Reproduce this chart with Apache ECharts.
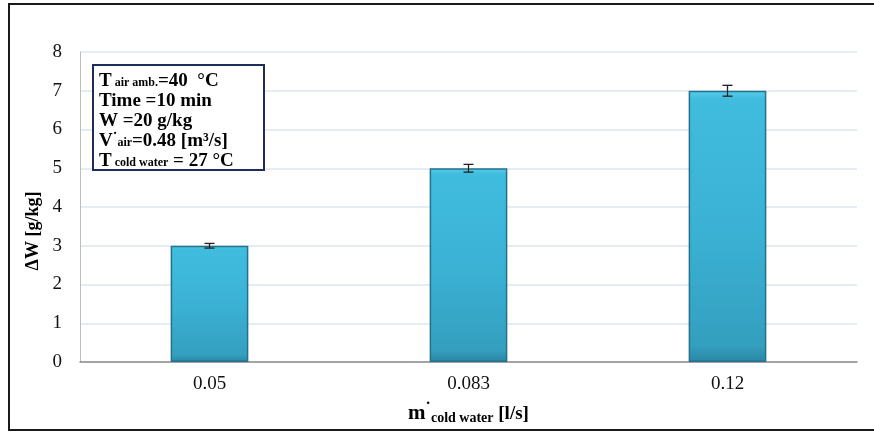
<!DOCTYPE html>
<html>
<head>
<meta charset="utf-8">
<script src="https://cdn.jsdelivr.net/npm/echarts@6/dist/echarts.min.js"></script>
<style>
  html, body { margin: 0; padding: 0; background: #fff; }
  #chart { width: 874px; height: 432px; }
</style>
</head>
<body>
<div id="chart"></div>
<script>
// Cold-water flow rate categories [l/s]
const categories = ['0.05', '0.083', '0.12'];
// Humidity ratio change ΔW [g/kg]
const deltaW = [3, 5, 7];
// Error half-widths [g/kg]
const errors = [0.06, 0.1, 0.14];
// Y axis ticks
const yTicks = [0, 1, 2, 3, 4, 5, 6, 7, 8];

const serif = '"Liberation Serif", "Times New Roman", serif';

const chart = echarts.init(document.getElementById('chart'));

const barColor = new echarts.graphic.LinearGradient(0, 0, 0, 1, [
  { offset: 0, color: '#5ACDEA' },
  { offset: 0.03, color: '#40BCDF' },
  { offset: 0.5, color: '#3BB2D5' },
  { offset: 0.94, color: '#349FBF' },
  { offset: 1, color: '#2A86A2' }
]);

const b = { fontFamily: serif, fontWeight: 'bold', fontSize: 19, color: '#000' };
const s = { fontFamily: serif, fontWeight: 'bold', fontSize: 12, color: '#000' };
const sup = { fontFamily: serif, fontWeight: 'bold', fontSize: 14, color: '#000' };

chart.setOption({
  animation: false,
  grid: { left: 80, right: 17, top: 52, bottom: 70 },
  xAxis: {
    type: 'category',
    data: categories,
    axisLine: { lineStyle: { color: '#8C8C8C', width: 1.5 } },
    axisTick: { show: false },
    axisLabel: { fontFamily: serif, fontSize: 19, color: '#111', margin: 13 },
    name: '{m|m}{d|˙}{sub|cold water}{u| [l/s]}',
    nameLocation: 'middle',
    nameGap: 41,
    nameTextStyle: {
      rich: {
        m: { ...b, fontSize: 21, lineHeight: 22 },
        d: { ...sup, fontSize: 16, lineHeight: 22, padding: [0, 0, 10, 0] },
        sub: { ...s, fontSize: 14, lineHeight: 22, padding: [8, 0, 0, 0] },
        u: { ...b, fontSize: 19, lineHeight: 22 }
      }
    }
  },
  yAxis: {
    type: 'value',
    min: yTicks[0],
    max: yTicks[yTicks.length - 1],
    interval: 1,
    axisLine: { show: true, lineStyle: { color: '#BDBDBD' } },
    axisTick: { show: false },
    splitLine: { lineStyle: { color: '#DCE6F0', width: 1.5 } },
    axisLabel: { fontFamily: serif, fontSize: 19, color: '#111', margin: 18 }
  },
  series: [
    {
      type: 'bar',
      data: deltaW,
      barWidth: '30%',
      itemStyle: { color: barColor, borderColor: '#23718A', borderWidth: 1.5 }
    },
    {
      type: 'custom',
      data: deltaW.map((v, i) => [i, v, errors[i]]),
      encode: { x: 0, y: 1 },
      z: 10,
      renderItem: function (params, api) {
        const x = api.value(0), y = api.value(1), e = api.value(2);
        const top = api.coord([x, y + e]);
        const bot = api.coord([x, y - e]);
        const hw = 5;
        const st = { stroke: '#222', lineWidth: 1.3 };
        return {
          type: 'group',
          children: [
            { type: 'line', shape: { x1: top[0], y1: top[1], x2: bot[0], y2: bot[1] }, style: st },
            { type: 'line', shape: { x1: top[0] - hw, y1: top[1], x2: top[0] + hw, y2: top[1] }, style: st },
            { type: 'line', shape: { x1: bot[0] - hw, y1: bot[1], x2: bot[0] + hw, y2: bot[1] }, style: st }
          ]
        };
      }
    }
  ],
  graphic: [
    {
      type: 'rect',
      shape: { x: 9, y: 4, width: 880, height: 426 },
      style: { fill: 'none', stroke: '#1A1A1A', lineWidth: 2 },
      z: 100
    },
    {
      type: 'text',
      x: 33,
      y: 231,
      rotation: Math.PI / 2,
      z: 20,
      style: {
        text: 'ΔW [g/kg]',
        fontFamily: serif, fontWeight: 'bold', fontSize: 18, fill: '#000',
        align: 'center', verticalAlign: 'middle'
      }
    },
    {
      type: 'rect',
      shape: { x: 93, y: 65, width: 171, height: 105 },
      style: { fill: '#fff', stroke: '#1F2D5C', lineWidth: 2 },
      z: 50
    },
    {
      type: 'text',
      left: 99,
      top: 71,
      z: 51,
      style: {
        text: [
          '{b|T}{s| air amb.}{b|=40  °C}',
          '{b|Time =10 min}',
          '{b|W =20 g/kg}',
          '{b|V}{p|˙}{s|air}{b|=0.48 [m³/s]}',
          '{b|T}{s| cold water}{b| = 27 °C}'
        ].join('\n'),
        rich: {
          b: { ...b, lineHeight: 20, height: 20, verticalAlign: 'bottom' },
          s: { ...s, lineHeight: 20, height: 16, verticalAlign: 'bottom' },
          p: { ...sup, lineHeight: 20, height: 26, verticalAlign: 'bottom' }
        }
      }
    }
  ]
});
</script>
</body>
</html>
